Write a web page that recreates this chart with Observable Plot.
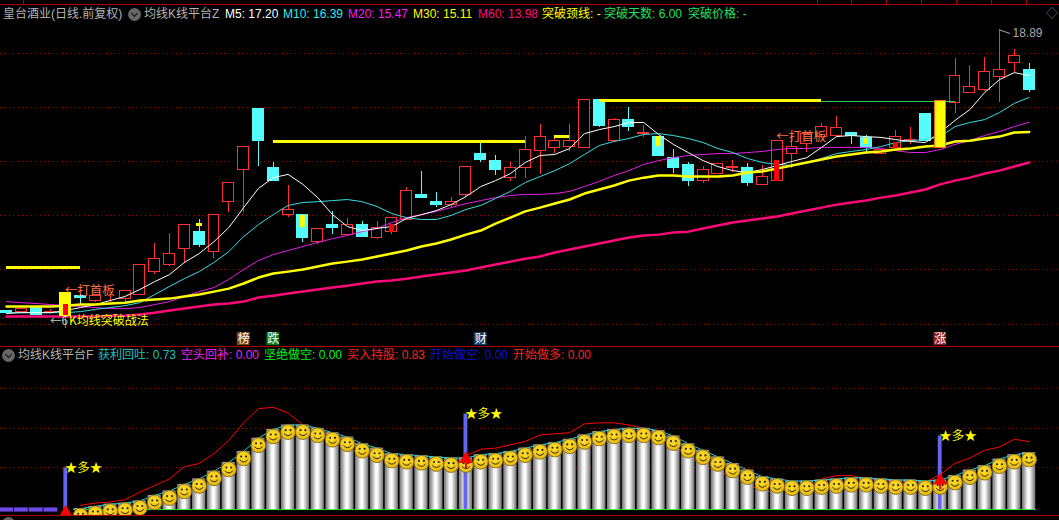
<!DOCTYPE html>
<html>
<head>
<meta charset="utf-8">
<script src="https://cdn.jsdelivr.net/npm/d3@7"></script>
<script src="https://cdn.jsdelivr.net/npm/@observablehq/plot@0.6"></script>
<style>
html,body{margin:0;padding:0;background:#000;width:1059px;height:520px;overflow:hidden}
#root{position:relative;width:1059px;height:520px;background:#000;overflow:hidden}
#top,#bottom{position:absolute;left:0}
#top{top:0}#bottom{top:347px}
svg{display:block}
.t{position:absolute;white-space:nowrap;font:12px/16px "Liberation Sans","Noto Sans CJK SC",sans-serif}
.c{position:absolute;background:#b00000}
.ic{position:absolute;width:13px;height:13px;border-radius:50%;background:#666}
.ic:after{content:"";position:absolute;left:3.5px;top:2.5px;width:4px;height:4px;border-right:1.5px solid #111;border-bottom:1.5px solid #111;transform:rotate(45deg)}
</style>
</head>
<body>
<div id="root"><div id="top"></div><div id="bottom"></div></div>
<script>
// Daily prices, one entry per trading day
const opens  = [8.50,8.46,8.61,8.44,8.31,9.02,8.87,8.94,8.91,9.09,9.91,10.17,10.76,11.39,10.68,12.50,13.72,15.98,13.79,12.02,12.02,11.02,11.65,11.28,11.68,11.20,11.39,11.87,12.76,12.53,12.42,12.76,14.28,14.02,13.39,13.76,14.39,14.50,14.54,14.50,16.28,14.79,15.54,15.02,14.94,14.13,13.87,13.28,13.57,13.79,13.79,13.13,13.28,14.31,14.68,14.91,14.98,15.09,14.87,14.31,14.50,14.79,15.79,14.50,16.20,16.57,16.68,17.13,17.65,17.39];
const closes = [8.39,8.54,8.35,8.46,9.13,8.98,9.05,8.94,9.24,10.20,10.39,10.61,11.68,10.94,12.02,13.24,14.57,14.76,13.28,12.24,11.20,11.50,11.54,11.65,11.24,11.57,11.91,12.94,12.68,12.39,12.53,13.83,14.09,13.72,13.76,14.46,14.94,14.79,14.79,16.28,15.35,15.54,15.28,15.09,14.24,13.79,13.28,13.72,13.91,13.83,13.24,13.46,14.79,14.57,15.05,15.31,15.24,14.98,14.50,14.46,14.94,14.83,14.76,16.24,17.17,16.76,17.35,17.39,17.91,16.65];
const highs  = [8.50,8.54,8.61,8.54,9.13,9.09,9.05,9.09,9.24,10.20,10.98,11.35,11.68,11.87,12.02,13.24,14.57,15.98,13.98,13.13,12.02,11.50,12.17,11.91,11.79,11.79,11.91,13.05,13.65,12.87,12.68,13.83,14.68,14.24,13.98,14.94,15.39,14.94,15.39,16.28,16.28,15.61,16.02,15.35,14.94,14.46,13.98,13.83,13.91,14.05,13.94,13.87,14.79,14.98,15.05,15.42,15.68,15.09,14.98,14.46,15.17,15.28,15.79,16.24,17.83,17.57,17.87,18.89,18.17,17.65];
const lows   = [8.39,8.42,8.35,8.39,7.83,8.72,8.79,8.79,8.79,9.09,9.83,10.13,10.24,10.83,10.42,12.13,12.13,13.83,13.28,11.94,11.02,10.94,11.31,11.28,11.20,11.13,11.31,11.87,12.65,12.31,12.31,12.68,13.98,13.50,13.28,13.39,13.54,14.31,14.39,14.50,15.28,14.72,15.13,14.91,14.24,13.57,13.09,13.20,13.57,13.61,13.09,13.13,13.28,13.76,14.35,14.91,14.98,14.65,14.35,14.31,14.50,14.65,14.76,14.50,15.79,16.57,16.61,16.20,17.31,16.57];
// Moving averages
const m5  = [8.39,8.42,8.42,8.42,8.50,8.61,8.72,8.87,9.02,9.28,9.57,9.83,10.28,10.61,11.05,11.57,12.31,13.02,13.42,13.54,13.17,12.68,12.05,11.61,11.46,11.54,11.61,11.91,12.05,12.20,12.42,12.72,13.09,13.31,13.57,13.98,14.24,14.28,14.50,15.05,15.20,15.31,15.46,15.46,15.02,14.65,14.35,14.05,13.83,13.68,13.61,13.72,13.87,14.02,14.16,14.54,14.94,14.98,14.94,14.91,14.83,14.76,14.72,15.09,15.54,15.94,16.57,17.05,17.31,17.20];
const m10 = [8.42,8.42,8.42,8.42,8.42,8.46,8.54,8.61,8.68,8.79,9.09,9.39,9.68,9.94,10.28,10.68,11.24,11.68,12.05,12.39,12.50,12.53,12.57,12.61,12.53,12.35,12.09,11.94,11.87,11.87,12.02,12.24,12.39,12.65,12.91,13.24,13.46,13.68,13.94,14.28,14.61,14.76,14.87,15.02,15.05,14.98,14.87,14.72,14.50,14.35,14.13,13.98,13.91,13.87,13.98,14.13,14.31,14.39,14.46,14.57,14.72,14.79,14.83,14.94,15.31,15.46,15.57,15.83,16.17,16.39];
const m20 = [8.83,8.79,8.76,8.72,8.68,8.65,8.61,8.57,8.57,8.61,8.72,8.83,9.02,9.20,9.35,9.65,10.02,10.35,10.57,10.72,10.87,11.02,11.16,11.28,11.42,11.54,11.76,11.94,12.05,12.17,12.31,12.46,12.57,12.68,12.76,12.80,12.80,12.83,12.91,13.09,13.28,13.50,13.68,13.91,14.05,14.16,14.24,14.28,14.31,14.31,14.35,14.39,14.46,14.50,14.50,14.54,14.54,14.54,14.54,14.50,14.42,14.35,14.35,14.46,14.65,14.79,14.98,15.13,15.31,15.47];
const m30 = [8.65,8.65,8.65,8.65,8.68,8.72,8.72,8.76,8.79,8.87,8.91,8.94,9.02,9.09,9.20,9.31,9.50,9.72,9.87,9.94,10.02,10.13,10.24,10.31,10.39,10.50,10.61,10.72,10.87,10.98,11.13,11.31,11.46,11.72,11.94,12.17,12.31,12.46,12.61,12.83,12.98,13.13,13.31,13.42,13.50,13.50,13.46,13.46,13.46,13.50,13.61,13.65,13.76,13.87,13.98,14.09,14.20,14.28,14.35,14.39,14.46,14.50,14.57,14.61,14.76,14.79,14.87,14.94,15.09,15.11];
const m60 = [8.28,8.28,8.28,8.28,8.28,8.28,8.28,8.31,8.31,8.35,8.42,8.50,8.57,8.65,8.72,8.76,8.83,8.98,9.05,9.13,9.20,9.28,9.35,9.42,9.50,9.57,9.61,9.68,9.76,9.83,9.91,9.98,10.09,10.20,10.31,10.42,10.50,10.65,10.76,10.87,10.98,11.09,11.20,11.28,11.31,11.39,11.42,11.54,11.65,11.76,11.83,11.91,11.98,12.09,12.20,12.31,12.42,12.50,12.57,12.68,12.76,12.87,12.98,13.17,13.31,13.42,13.57,13.68,13.83,13.98];
// Special days and price levels
const yellowDays = [4,63];
const innerYellow = [[20,12.02,11.57],[44,14.94,14.57],[58,14.87,14.65]];
const innerRed = [[4,8.72,8.31],[26,11.68,11.39],[52,14.05,13.28],[60,14.72,14.50]];
const levels = [[0,5,10.09],[18,35,14.75],[37,38,14.94],[40,55,16.28],[12.8,13.2,11.68]];
const neckline = [[52,64,16.24]];
const priceTicks = [18,16,14,12,10,8];
const tags = [["榜",16,"#7d4513"],["跌",18,"#0e7a18"],["财",32,"#123c6a"],["涨",63,"#8a1a1a"]];
const boardNotes = [[4,9.24],[52,14.91]];
const breakoutNote = [3,8.09];
const maxNote = [67,18.89,18.76];
const tagPrice = 7.44;
// Lower indicator
const profit = [0.22,0.24,0.26,0.27,0.29,0.34,0.38,0.44,0.49,0.56,0.64,0.74,0.86,0.94,0.98,0.98,0.95,0.91,0.87,0.81,0.77,0.72,0.71,0.70,0.69,0.68,0.68,0.71,0.72,0.74,0.77,0.80,0.82,0.85,0.89,0.92,0.94,0.95,0.95,0.93,0.88,0.81,0.75,0.69,0.63,0.57,0.51,0.49,0.47,0.47,0.48,0.49,0.50,0.50,0.49,0.48,0.48,0.47,0.48,0.52,0.57,0.61,0.67,0.71,0.73];
const hold   = [0.25,0.27,0.28,0.30,0.37,0.43,0.49,0.60,0.63,0.72,0.84,1.00,1.13,1.14,1.09,0.98,0.94,0.90,0.84,0.78,0.73,0.69,0.67,0.65,0.65,0.64,0.70,0.76,0.77,0.80,0.83,0.89,0.90,0.91,0.99,1.00,1.00,0.98,0.95,0.88,0.79,0.70,0.61,0.56,0.51,0.44,0.38,0.37,0.40,0.41,0.49,0.52,0.52,0.49,0.48,0.47,0.47,0.46,0.53,0.63,0.68,0.75,0.78,0.85,0.83];
const firstBar = 5;
const baseline = 0.221;
const indTicks = [1.31,0.95,0.59];
const signals = [[4,0.59],[31,1.08],[63,0.88]];
const arrowDays = [[31,0.67],[63,0.475]];
const earlyDays = [0,1,2,3];

const chartW = 1059;
const xOpt = {type:"linear",domain:[-0.405,71.05],range:[0,chartW],axis:null};
const days = opens.map((o,i)=>({i,o,c:closes[i],h:highs[i],l:lows[i]}));
const isUp = d=>d.c>=d.o;
const yellow = days.filter(d=>yellowDays.includes(d.i));
const normal = days.filter(d=>!yellowDays.includes(d.i));
const series = (vals,start=0)=>vals.map((v,k)=>({i:k+start,v}));
const RED="#ff3030",CY="#54fcfc",YE="#ffff00";
const fontCJK='"Noto Sans CJK SC","Liberation Sans",sans-serif';
const hw=0.37;
const lineM=(vals,stroke,sw)=>Plot.line(series(vals),{x:"i",y:"v",stroke,strokeWidth:sw,curve:"linear"});

const topChart = Plot.plot({
  width:chartW,height:347,margin:0,style:{background:"#000",fontFamily:fontCJK},
  x:xOpt,y:{domain:[19.98,7.13],range:[0,347],axis:null},
  marks:[
    Plot.ruleY(priceTicks,{stroke:"#a00000",strokeDasharray:"1,3.4",strokeWidth:1,shapeRendering:"crispEdges"}),
    Plot.ruleX(days,{x:"i",y1:"l",y2:"h",stroke:d=>isUp(d)?RED:CY,strokeWidth:1,shapeRendering:"crispEdges"}),
    Plot.rect(normal,{x1:d=>d.i-hw,x2:d=>d.i+hw,y1:"o",y2:"c",fill:d=>isUp(d)?"#000":CY,stroke:d=>isUp(d)?RED:CY,strokeWidth:1,shapeRendering:"crispEdges"}),
    Plot.rect(innerYellow,{x1:d=>d[0]-0.16,x2:d=>d[0]+0.16,y1:d=>d[1],y2:d=>d[2],fill:YE}),
    Plot.ruleY(neckline,{x1:d=>d[0],x2:d=>d[1],y:d=>d[2],stroke:"#28d050",strokeWidth:1,shapeRendering:"crispEdges"}),
    Plot.ruleY(levels,{x1:d=>d[0],x2:d=>d[1],y:d=>d[2],stroke:YE,strokeWidth:3,shapeRendering:"crispEdges"}),
    lineM(m60,"#ff0a78",2.5),
    lineM(m20,"#e820e8",1),
    lineM(m10,"#38dce4",1),
    lineM(m5,"#ffffff",1),
    lineM(m30,YE,2.5),
    Plot.rect(yellow,{x1:d=>d.i-hw,x2:d=>d.i+hw,y1:"o",y2:"c",fill:YE,stroke:d=>d.i===63?"#ff6020":YE,strokeWidth:1,shapeRendering:"crispEdges"}),
    Plot.rect(innerRed,{x1:d=>d[0]-0.16,x2:d=>d[0]+0.16,y1:d=>d[1],y2:d=>d[2],fill:"#ff0000",shapeRendering:"crispEdges"}),
    Plot.text(boardNotes,{x:d=>d[0],y:d=>d[1],text:()=>"←打首板",textAnchor:"start",fill:"#ff7040",fontSize:12.5,dx:-1}),
    Plot.text([breakoutNote],{x:d=>d[0],y:d=>d[1],text:()=>"←6",textAnchor:"start",fill:"#c8c8c8",fontSize:11.5,dx:-1}),
    Plot.text([breakoutNote],{x:d=>d[0],y:d=>d[1],text:()=>"K均线突破战法",textAnchor:"start",fill:YE,fontSize:12,dx:18}),
    Plot.text([maxNote],{x:d=>d[0],y:d=>d[2],text:()=>"18.89",textAnchor:"start",fill:"#a8a8a8",fontSize:12,fontFamily:"Liberation Sans",dx:13}),
    Plot.link([maxNote],{x1:d=>d[0],x2:d=>d[0]+0.7,y1:d=>d[1],y2:d=>d[2],stroke:"#a8a8a8",strokeWidth:1}),
    Plot.rect(tags,{x1:d=>d[1]-0.43,x2:d=>d[1]+0.43,y1:()=>tagPrice-0.24,y2:()=>tagPrice+0.24,fill:d=>d[2]}),
    Plot.text(tags,{x:d=>d[1],y:()=>tagPrice,text:d=>d[0],fill:"#fff",fontSize:12})
  ]
});
document.getElementById("top").append(topChart);

const bars = series(profit,firstBar);
const smile = "data:image/svg+xml,"+encodeURIComponent('<svg xmlns="http://www.w3.org/2000/svg" viewBox="0 0 30 30"><defs><radialGradient id="g" cx=".45" cy=".4" r=".6"><stop offset="0" stop-color="#ffe030"/><stop offset="1" stop-color="#e8b810"/></radialGradient></defs><circle cx="15" cy="15" r="14" fill="url(#g)" stroke="#7a6010" stroke-width="1.6"/><circle cx="10.5" cy="11.5" r="2" fill="#2a2000"/><circle cx="19.5" cy="11.5" r="2" fill="#2a2000"/><path d="M7.5 17.5Q15 26 22.5 17.5" fill="none" stroke="#2a2000" stroke-width="1.8"/></svg>');
const silverDefs = ()=>{
  const d=d3.create("svg:defs");
  const g=d.append("linearGradient").attr("id","silver");
  [[0,"#747474"],[0.18,"#a8a8a8"],[0.4,"#f4f4f4"],[0.55,"#ffffff"],[0.75,"#c0c0c0"],[1,"#707070"]].forEach(([o,c])=>g.append("stop").attr("offset",o).attr("stop-color",c));
  return d.node();
};
const bottomChart = Plot.plot({
  width:chartW,height:168,margin:0,style:{background:"#000",fontFamily:fontCJK},
  x:xOpt,y:{domain:[1.685,0.157],range:[0,168],axis:null},
  marks:[
    silverDefs,
    Plot.ruleY(indTicks,{stroke:"#a00000",strokeDasharray:"1,3.4",strokeWidth:1,shapeRendering:"crispEdges"}),
    Plot.ruleY([baseline-0.006],{x1:firstBar-0.5,x2:69.5,stroke:"#00ff00",strokeWidth:1,shapeRendering:"crispEdges"}),
    Plot.line(series(hold,firstBar),{x:"i",y:"v",stroke:"#ff0000",strokeWidth:1}),
    Plot.rect(bars,{x1:d=>d.i-0.45,x2:d=>d.i+0.45,y1:()=>baseline-0.012,y2:"v",fill:"url(#silver)"}),
    Plot.line(bars,{x:"i",y:"v",stroke:"#30d0d0",strokeWidth:1}),
    Plot.rect(earlyDays,{x1:d=>d-0.47,x2:d=>d+0.47,y1:()=>baseline-0.033,y2:()=>baseline+0.005,fill:"#7048e8"}),
    Plot.rect(signals,{x1:d=>d[0]-0.13,x2:d=>d[0]+0.13,y1:()=>baseline-0.012,y2:d=>d[1],fill:"#6464f0"}),
    Plot.image(bars,{x:"i",y:"v",src:()=>smile,width:16,height:16,dy:7}),
    Plot.dot([signals[0]],{x:d=>d[0],y:()=>baseline-0.045,symbol:"triangle",r:5.5,fill:"#ff0000"}),
    Plot.ruleX(arrowDays,{x:d=>d[0],y1:d=>d[1]-0.085,y2:d=>d[1],stroke:"#ff0000",strokeWidth:2}),
    Plot.dot(arrowDays,{x:d=>d[0],y:d=>d[1],symbol:"triangle",r:5,fill:"#ff0000"}),
    Plot.text(signals,{x:d=>d[0],y:d=>d[1],text:()=>"★多★",textAnchor:"start",fill:YE,fontSize:12.5,dx:-1})
  ]
});
document.getElementById("bottom").append(bottomChart);

// Header text
const root=document.getElementById("root");
const put=(x,y,s,c)=>{const e=document.createElement("div");e.className="t";e.style.left=x+"px";e.style.top=y+"px";e.style.color=c;e.textContent=s;root.append(e);};
put(3,6,"皇台酒业(日线.前复权)","#b4b4b4");
put(144,6,"均线K线平台Z","#b4b4b4");
put(225,6,"M5: 17.20","#ffffff");
put(283,6,"M10: 16.39","#38e8f0");
put(348,6,"M20: 15.47","#f020f0");
put(413,6,"M30: 15.11","#ffff00");
put(478,6,"M60: 13.98","#ff0a78");
put(542,6,"突破颈线: -","#ffff00");
put(604,6,"突破天数: 6.00","#20e060");
put(688,6,"突破价格: -","#20e060");
put(18,347,"均线K线平台F","#b4b4b4");
put(98,347,"获利回吐: 0.73","#20c0c0");
put(181,347,"空头回补: 0.00","#f020f0");
put(264,347,"坚绝做空: 0.00","#00f020");
put(347,347,"买入持股: 0.83","#ff2020");
put(430,347,"开始做空: 0.00","#1010d8");
put(513,347,"开始做多: 0.00","#ff2020");
put(1046,6,"◇","#707070");
const box=(x,y,ww,h)=>{const e=document.createElement("div");e.className="c";e.style.cssText=`left:${x}px;top:${y}px;width:${ww}px;height:${h}px`;root.append(e);};
box(0,4,1059,1);box(0,346,1059,1);box(0,515,1059,1);
[23,817,851,886,921,956,991,1026].forEach(x=>box(x,0,1,4));
const ic=(x,y)=>{const e=document.createElement("div");e.className="ic";e.style.left=x+"px";e.style.top=y+"px";root.append(e);};
ic(128,8);ic(2,349);ic(2,517);
</script>
</body>
</html>
